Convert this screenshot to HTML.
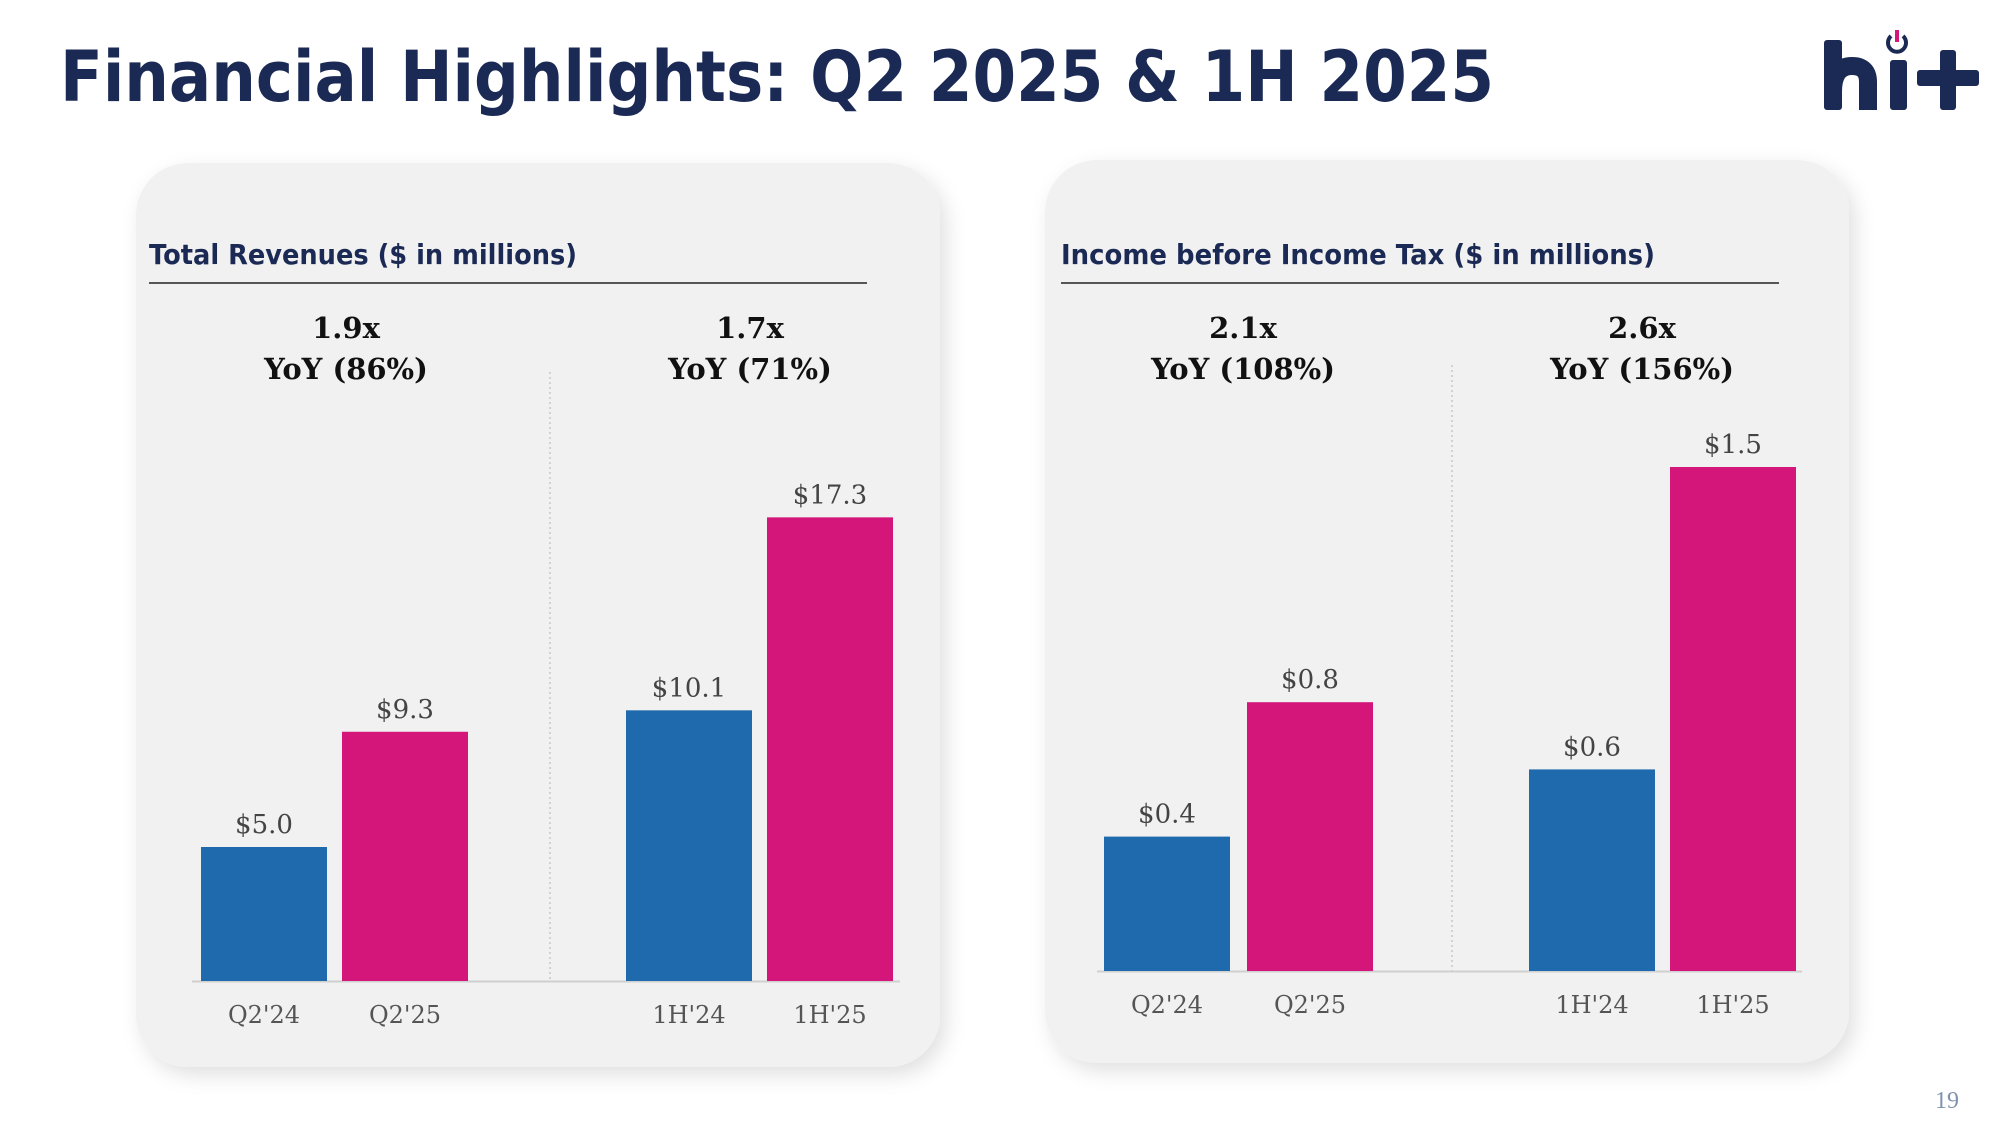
<!DOCTYPE html>
<html><head><meta charset="utf-8"><style>
html,body{margin:0;padding:0;background:#fff;width:2000px;height:1125px;overflow:hidden}
svg{display:block}
</style></head><body>
<svg id="s" width="2000" height="1125" viewBox="0 0 2000 1125" xmlns="http://www.w3.org/2000/svg">
<defs>
<filter id="sh" x="-10%" y="-10%" width="125%" height="125%"><feDropShadow dx="6" dy="8" stdDeviation="10" flood-color="#000" flood-opacity="0.12"/></filter>
</defs>
<text x="60" y="101" font-family="DejaVu Sans, sans-serif" font-weight="bold" font-size="70" fill="#1b2a55" textLength="1434" lengthAdjust="spacingAndGlyphs">Financial Highlights: Q2 2025 &amp; 1H 2025</text>
<g>
<rect x="1824" y="40" width="18" height="70" rx="3" fill="#1b2a55"/>
<path d="M1833 92 Q1833 66 1852 66 Q1868 66 1868 82 V110" fill="none" stroke="#1b2a55" stroke-width="18"/>
<rect x="1890" y="60" width="17" height="50" rx="3" fill="#1b2a55"/>
<path d="M1891 36 A9 9 0 1 0 1903 36" fill="none" stroke="#1b2a55" stroke-width="4"/>
<line x1="1897" y1="30" x2="1897" y2="42" stroke="#d4157a" stroke-width="4"/>
<rect x="1917" y="70" width="62" height="16" fill="#1b2a55" rx="3"/>
<rect x="1940" y="50" width="16" height="60" fill="#1b2a55" rx="3"/>
</g>
<rect x="136" y="163" width="804" height="904" rx="52" fill="#f1f1f1" filter="url(#sh)"/>
<rect x="1045" y="160" width="804" height="903" rx="52" fill="#f1f1f1" filter="url(#sh)"/>
<text x="1947" y="1108" font-family="Liberation Serif, serif" font-size="24" fill="#7f93ad" text-anchor="middle">19</text>
<g id="charts"></g>
</svg>
<script>
const revCategories = ["Q2'24","Q2'25","1H'24","1H'25"];
const revValues = [5.0, 9.3, 10.1, 17.3];
const revLabels = ["$5.0","$9.3","$10.1","$17.3"];
const revMultiples = ["1.9x","1.7x"];
const revYoY = ["YoY (86%)","YoY (71%)"];
const incCategories = ["Q2'24","Q2'25","1H'24","1H'25"];
const incValues = [0.4, 0.8, 0.6, 1.5];
const incLabels = ["$0.4","$0.8","$0.6","$1.5"];
const incMultiples = ["2.1x","2.6x"];
const incYoY = ["YoY (108%)","YoY (156%)"];

const NS = "http://www.w3.org/2000/svg";
const root = document.getElementById('charts');
function mk(tag, attrs, parent, txt){
  const e = document.createElementNS(NS, tag);
  for (const k in attrs) e.setAttribute(k, attrs[k]);
  if (txt !== undefined) e.textContent = txt;
  parent.appendChild(e);
  return e;
}
const colors = ["#1f6aad","#d4157a","#1f6aad","#d4157a"];

function chart(cfg){
  const g = mk('g', {}, root);
  
  
  const t = mk('text', {x:cfg.tx, y:264, 'font-family':'DejaVu Sans, Liberation Sans, sans-serif', 'font-weight':'bold', 'font-size':28, fill:'#1b2a55', textLength:cfg.tlen, lengthAdjust:'spacingAndGlyphs'}, g, cfg.title);
  
  
  const u = mk('line', {x1:cfg.tx, x2:cfg.tx+718, y1:283, y2:283, stroke:'#222', 'stroke-width':1.5}, g);
  
  
  const yScale = v => cfg.base - v*cfg.ppu;
  for (let i=0;i<2;i++){
    const m = mk('text', {x:cfg.centers[i], y:338, 'text-anchor':'middle', 'font-family':'DejaVu Serif, serif', 'font-weight':'bold', 'font-size':29, fill:'#111'}, g, cfg.mult[i]);
    
    
    const y = mk('text', {x:cfg.centers[i], y:379, 'text-anchor':'middle', 'font-family':'DejaVu Serif, serif', 'font-weight':'bold', 'font-size':29, fill:'#111'}, g, cfg.yoy[i]);
    
    
  }
  const d = mk('line', {x1:cfg.div, x2:cfg.div, y1:cfg.divTop, y2:cfg.base, stroke:'#c8c8c8', 'stroke-width':1.5, 'stroke-dasharray':'2 3'}, g);
  
  
  const ax = mk('line', {x1:cfg.axL, x2:cfg.axR, y1:cfg.base+0.5, y2:cfg.base+0.5, stroke:'#d0d0d0', 'stroke-width':2}, g);
  
  
  cfg.values.forEach((v,i)=>{
    const x = cfg.barX[i], w = 126, top = yScale(v);
    const r = mk('rect', {x:x, y:top, width:w, height:cfg.base-top, fill:colors[i]}, g);
    
    
    const l = mk('text', {x:x+w/2, y:top-14, 'text-anchor':'middle', 'font-family':'DejaVu Serif, serif', 'font-size':26, fill:'#444'}, g, cfg.labels[i]);
    
    
    const c = mk('text', {x:x+w/2, y:cfg.base+42, 'text-anchor':'middle', 'font-family':'DejaVu Serif, serif', 'font-size':24, fill:'#555'}, g, cfg.cats[i]);
    
    
  });
}
chart({name:'revenue-chart', title:'Total Revenues ($ in millions)', tlen:428, tx:149, centers:[346,750], mult:revMultiples, yoy:revYoY,
  div:550, divTop:372, base:981, ppu:26.8, axL:192, axR:900, barX:[201,342,626,767], values:revValues, labels:revLabels, cats:revCategories});
chart({name:'income-chart', title:'Income before Income Tax ($ in millions)', tlen:594, tx:1061, centers:[1243,1642], mult:incMultiples, yoy:incYoY,
  div:1452, divTop:365, base:971, ppu:336, axL:1097, axR:1802, barX:[1104,1247,1529,1670], values:incValues, labels:incLabels, cats:incCategories});
</script>
</body></html>
